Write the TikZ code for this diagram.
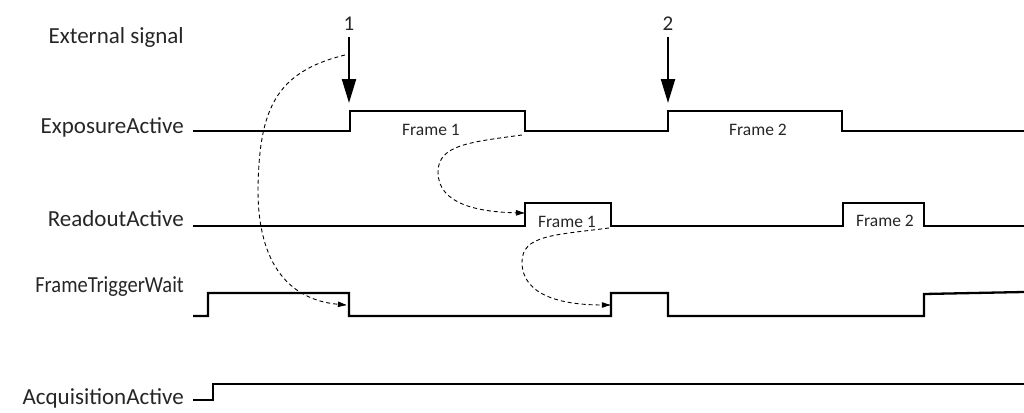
\documentclass[tikz,border=0pt]{standalone}
\usepackage{fontspec}
\setmainfont{Carlito}
\usetikzlibrary{arrows.meta}
\begin{document}
\begin{tikzpicture}[x=1pt,y=-1pt,
  signal/.style={line width=2.3pt,line join=miter},
  lbl/.style={font=\fontsize{23}{26}\selectfont,anchor=base east,inner sep=0pt,text=black!85},
  frm/.style={font=\fontsize{17.5}{20}\selectfont,anchor=base,inner sep=0pt,text=black!85},
  num/.style={font=\fontsize{21}{24}\selectfont,anchor=base,inner sep=0pt,text=black!85},
  trig/.style={line width=2.2pt,-{Triangle[length=24pt,width=14pt]}},
  dep/.style={line width=0.9pt,dash pattern=on 4pt off 3pt,-{Latex[length=10pt,width=6pt,round=false]}}]
\useasboundingbox (0,0) rectangle (1024,412);
% labels
\node[lbl] (lext) at (184,44) {External signal};
\node[lbl] (lexp) at (184,133) {ExposureActive};
\node[lbl] (lrd) at (184,226) {ReadoutActive};
\node[lbl] (lftw) at (184,292) {\scalebox{0.89}[1]{FrameTriggerWait}};
\node[lbl] (lacq) at (184,404) {AcquisitionActive};
% signals
\draw[signal] (193,131) -- (350,131) -- (350,111) -- (525,111) -- (525,131) -- (668,131) -- (668,111) -- (842,111) -- (842,131) -- (1024,131);
\draw[signal] (193,226) -- (525,226) -- (525,203) -- (611,203) -- (611,226) -- (843,226) -- (843,203) -- (924,203) -- (924,226) -- (1024,226);
\draw[signal] (193,316) -- (208,316) -- (208,293) -- (349,293) -- (349,316) -- (611,316) -- (611,293) -- (668,293) -- (668,316) -- (924,316) -- (924,294) -- (1024,292);
\draw[signal] (193,400) -- (213,400) -- (213,384) -- (1024,384);
% frame labels
\node[frm] (f1e) at (431,135) {Frame 1};
\node[frm] (f2e) at (758,135) {Frame 2};
\node[frm] (f1r) at (567,227) {Frame 1};
\node[frm] (f2r) at (885,226) {Frame 2};
% trigger arrows
\node[num] (n1) at (349,31) {1};
\node[num] (n2) at (668,31) {2};
\coordinate (t1s) at (349,37);
\coordinate (t1e) at (349,103);
\coordinate (t2s) at (668,37);
\coordinate (t2e) at (668,103);
\draw[trig] (t1s) -- (t1e);
\draw[trig] (t2s) -- (t2e);
% dependency curves
\coordinate (d1s) at (345,55);
\coordinate (d1e) at (346,305);
\coordinate (d2s) at (522,135);
\coordinate (d2e) at (524,213);
\coordinate (d3s) at (609,228);
\coordinate (d3e) at (610,305);
\draw[dep] (d1s) .. controls (275,72) and (259,110) .. (258,190) .. controls (258,265) and (290,300) .. (d1e);
\draw[dep] (d2s) .. controls (470,142) and (438,145) .. (438,172) .. controls (438,205) and (480,212) .. (d2e);
\draw[dep] (d3s) .. controls (555,235) and (522,235) .. (522,262) .. controls (522,297) and (565,305) .. (d3e);
\end{tikzpicture}
\end{document}
